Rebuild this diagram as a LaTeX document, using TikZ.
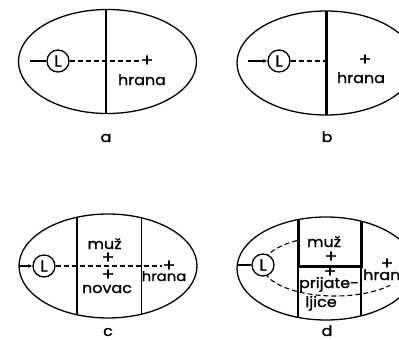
\documentclass[tikz,border=0pt]{standalone}
\usepackage{fontspec}
\setmainfont{Poppins}[FakeBold=1.2, FakeStretch=1.1]
\usetikzlibrary{arrows.meta}
\begin{document}
\begin{tikzpicture}[x=1pt,y=-1pt,
  outline/.style={line width=1.3pt},
  wall/.style={line width=1.3pt},
  thickwall/.style={line width=3pt},
  trail/.style={line width=1.1pt, dash pattern=on 5pt off 3pt},
  lcirc/.style={circle, draw, line width=1.3pt, fill=white, minimum size=22pt, inner sep=0pt, font=\fontsize{16}{16}\selectfont},
  lbl/.style={anchor=base, inner sep=0pt, font=\fontsize{14.5}{14.5}\selectfont},
  plus/.style={anchor=center, inner sep=0pt, font=\fontsize{17}{17}\selectfont},
  entry/.style={line width=1.3pt},
  entryarrow/.style={line width=1.3pt, -{Latex[length=4pt,width=4pt]}}]
\useasboundingbox (0,0) rectangle (399,340);
\clip (0,0) rectangle (399,340);
% ---------- panel a ----------
\draw[outline] (107.5,61.5) ellipse [x radius=89pt, y radius=52pt];
\begin{scope}
  \clip (107.5,61.5) ellipse [x radius=89pt, y radius=52pt];
  \draw[wall] (106,0) -- (106,130);
\end{scope}
\node[plus] (pa) at (147,61) {+};
\node[lcirc] (La) at (58,61) {L};
\coordinate (sa) at (30,61);
\draw[entry] (sa) -- (La.west);
\draw[trail] (La.east) -- (pa.west);
\node[lbl] (ha) at (142,85) {hrana};
\node[lbl] (capa) at (106,142) {a};
% ---------- panel b ----------
\draw[outline] (326,63) ellipse [x radius=89pt, y radius=52pt];
\begin{scope}
  \clip (326,63) ellipse [x radius=89pt, y radius=52pt];
  \draw[thickwall] (326,0) -- (326,130);
\end{scope}
\coordinate (wb) at (326,61);
\node[lcirc] (Lb) at (279,61) {L};
\coordinate (sb) at (248,61);
\draw[entryarrow] (sb) -- (Lb.west);
\draw[trail] (Lb.east) -- (wb);
\node[plus] (pb) at (365,60) {+};
\node[lbl] (hb) at (361,83) {hrana};
\node[lbl] (capb) at (327,142) {b};
% ---------- panel c ----------
\draw[outline] (108,266) ellipse [x radius=89pt, y radius=52pt];
\begin{scope}
  \clip (108,266) ellipse [x radius=89pt, y radius=52pt];
  \draw[wall] (77,200) -- (77,330);
  \draw[wall] (141.5,200) -- (141.5,330);
\end{scope}
\node[plus] (pc) at (169,266) {+};
\node[lcirc] (Lc) at (44,266) {L};
\coordinate (sc) at (19,266);
\draw[entryarrow] (sc) -- (Lc.west);
\draw[trail] (Lc.east) -- (pc.west);
\node[lbl] (mc) at (104.5,249) {muž};
\node[plus] (pc1) at (108,258) {+};
\node[plus] (pc2) at (108,275) {+};
\node[lbl] (nc) at (107,293) {novac};
\node[lbl, font=\fontsize{13.5}{13.5}\selectfont] (hc) at (164,281) {hrana};
\node[lbl] (capc) at (108,336) {c};
% ---------- panel d ----------
\draw[outline] (326,268.5) ellipse [x radius=89pt, y radius=51.5pt];
\begin{scope}
  \clip (326,268.5) ellipse [x radius=89pt, y radius=51.5pt];
  \draw[thickwall] (298,200) -- (298,266);
  \draw[thickwall] (361,200) -- (361,266);
  \draw[wall] (298,266) -- (298,330);
  \draw[wall] (361,266) -- (361,330);
  \draw[thickwall] (296.5,266) -- (362.5,266);
\end{scope}
\draw[trail] (263,266) arc[start angle=180, end angle=121, x radius=72pt, y radius=30pt];
\draw[trail] (263,266) arc[start angle=180, end angle=320, x radius=72pt, y radius=30pt];
\node[lcirc] (Ld) at (263,265) {L};
\coordinate (sd) at (237,265);
\draw[entry] (sd) -- (Ld.west);
\node[lbl] (md) at (324,247) {muž};
\node[plus] (pd1) at (331,257) {+};
\node[plus] (pd2) at (330,272) {+};
\node[lbl] (prd) at (329,288) {prijate-};
\node[lbl] (ld) at (321,307) {ljice};
\node[plus] (pd3) at (387,264) {+};
\node[lbl, anchor=base west] (hd) at (363,280) {hrana};
\node[lbl] (capd) at (327,336) {d};
\end{tikzpicture}
\end{document}
